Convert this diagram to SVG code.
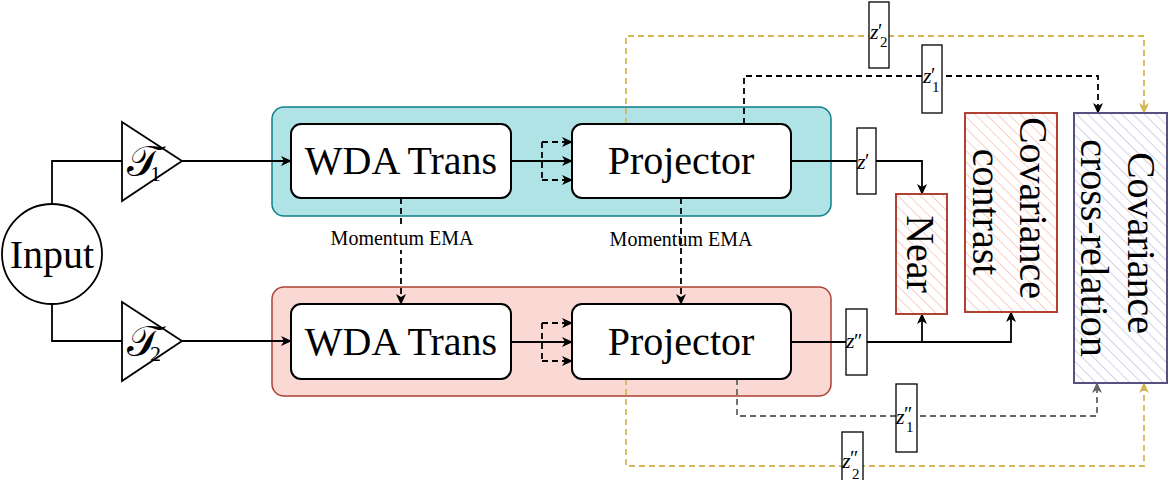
<svg xmlns="http://www.w3.org/2000/svg" width="1169" height="480" viewBox="0 0 1169 480">
<defs>
<style>
.grp-t{fill:#b0e3e6;stroke:#0e8088;stroke-width:1.5}
.grp-r{fill:#fad9d5;stroke:#ae4132;stroke-width:1.5}
.box{fill:#fff;stroke:#000;stroke-width:2}
.big{font-family:"Liberation Serif",serif;font-size:40px;fill:#000}
.tau{font-family:"DejaVu Serif","DejaVu Sans",serif;font-size:44px;fill:#000}
.small{font-family:"Liberation Serif",serif;font-size:20px;fill:#000}
.zi{font-family:"Liberation Serif",serif;font-size:22px;font-style:italic;fill:#000}
.zp{font-family:"Liberation Serif",serif;font-size:20px;fill:#000}
.zs{font-family:"Liberation Serif",serif;font-size:15px;fill:#000}
.ts{font-family:"Liberation Serif",serif;font-size:22px;fill:#000}
.lbl{fill:#fff;stroke:#000;stroke-width:1.3}
.ln{fill:none;stroke:#000;stroke-width:1.8}
.dk{fill:none;stroke:#000;stroke-width:1.8;stroke-dasharray:6 4}
.dg{fill:none;stroke:#666;stroke-width:1.8;stroke-dasharray:6 4}
.dy{fill:none;stroke:#d6b656;stroke-width:1.8;stroke-dasharray:6 4}
.shape{fill:#fff;stroke:#000;stroke-width:1.8}
</style>
<pattern id="hatchR" patternUnits="userSpaceOnUse" width="8" height="8" patternTransform="rotate(-45)">
<rect width="8" height="8" fill="#ffffff"/>
<line x1="0" y1="0" x2="0" y2="8" stroke="#f3b2a9" stroke-width="1.3"/>
</pattern>
<pattern id="hatchP" patternUnits="userSpaceOnUse" width="8" height="8" patternTransform="rotate(-45)">
<rect width="8" height="8" fill="#ffffff"/>
<line x1="0" y1="0" x2="0" y2="8" stroke="#bcb8dc" stroke-width="1.3"/>
</pattern>
<marker id="ak" markerUnits="userSpaceOnUse" markerWidth="12" markerHeight="10" refX="10" refY="5" orient="auto" viewBox="0 0 12 10">
<path d="M0,0 L11,5 L0,10 L3,5 z" fill="#000"/>
</marker>
<marker id="ag" markerUnits="userSpaceOnUse" markerWidth="12" markerHeight="10" refX="10" refY="5" orient="auto" viewBox="0 0 12 10">
<path d="M0,0 L11,5 L0,10 L3,5 z" fill="#666"/>
</marker>
<marker id="ay" markerUnits="userSpaceOnUse" markerWidth="12" markerHeight="10" refX="10" refY="5" orient="auto" viewBox="0 0 12 10">
<path d="M0,0 L11,5 L0,10 L3,5 z" fill="#d6b656"/>
</marker>
</defs>
<rect width="1169" height="480" fill="#fff"/>

<g id="group-top"><rect x="272" y="107" width="559" height="109" rx="12" class="grp-t"/></g>
<g id="group-bottom"><rect x="272" y="287" width="559" height="109" rx="12" class="grp-r"/></g>

<g id="connectors">
<path class="ln" d="M52,204 V161 H122"/>
<path class="ln" d="M52,304 V341 H122"/>
<path class="ln" d="M182,161 H291" marker-end="url(#ak)"/>
<path class="ln" d="M182,341 H291" marker-end="url(#ak)"/>
<path class="ln" d="M511,161 H572" marker-end="url(#ak)"/>
<path class="dk" d="M511,161 H542 M542,142 V180"/>
<path class="dk" d="M542,142 H572" marker-end="url(#ak)"/>
<path class="dk" d="M542,180 H572" marker-end="url(#ak)"/>
<path class="ln" d="M511,342 H572" marker-end="url(#ak)"/>
<path class="dk" d="M511,342 H542 M542,323 V361"/>
<path class="dk" d="M542,323 H572" marker-end="url(#ak)"/>
<path class="dk" d="M542,361 H572" marker-end="url(#ak)"/>
<path class="dk" d="M401,198 V304" marker-end="url(#ak)"/>
<path class="dk" d="M681,198 V304" marker-end="url(#ak)"/>
<path class="ln" d="M791,161 H922 V194" marker-end="url(#ak)"/>
<path class="ln" d="M791,342 H1011 V312" marker-end="url(#ak)"/>
<path class="ln" d="M922,342 V314" marker-end="url(#ak)"/>
<path class="dk" d="M744,124 V76 H1098 V113" marker-end="url(#ak)"/>
<path class="dy" d="M626,124 V36 H1144 V113" marker-end="url(#ay)"/>
<path class="dg" d="M737,379 V416 H1097 V383" marker-end="url(#ag)"/>
<path class="dy" d="M626,379 V466 H1144 V383" marker-end="url(#ay)"/>
</g>

<g id="input"><circle cx="52" cy="254" r="50" class="shape"/><text x="52" y="268" text-anchor="middle" class="big">Input</text></g>
<g id="t1"><polygon points="122,122 182,161 122,201" class="shape"/><text x="127" y="176" class="tau">𝒯</text><text x="150" y="181" class="ts">1</text></g>
<g id="t2"><polygon points="122,302 182,341 122,381" class="shape"/><text x="127" y="356" class="tau">𝒯</text><text x="150" y="361" class="ts">2</text></g>

<g id="wda-top"><rect x="291" y="124" width="220" height="74" rx="10" class="box"/><text x="401" y="174" text-anchor="middle" class="big">WDA Trans</text></g>
<g id="proj-top"><rect x="572" y="124" width="219" height="74" rx="10" class="box"/><text x="681" y="174" text-anchor="middle" class="big">Projector</text></g>
<g id="wda-bottom"><rect x="291" y="304" width="220" height="75" rx="10" class="box"/><text x="401" y="355" text-anchor="middle" class="big">WDA Trans</text></g>
<g id="proj-bottom"><rect x="572" y="304" width="219" height="75" rx="10" class="box"/><text x="681" y="355" text-anchor="middle" class="big">Projector</text></g>

<g id="ema-1"><rect x="329" y="228" width="146" height="22" fill="#fff"/><text x="402" y="245" text-anchor="middle" class="small">Momentum EMA</text></g>
<g id="ema-2"><text x="681" y="246" text-anchor="middle" class="small">Momentum EMA</text></g>

<g id="near"><rect x="896" y="194" width="51" height="120" fill="url(#hatchR)" stroke="#ae4132" stroke-width="2"/><text transform="translate(907,254) rotate(90)" text-anchor="middle" class="big">Near</text></g>
<g id="cov-contrast"><rect x="965" y="113" width="92" height="199" fill="url(#hatchR)" stroke="#ae4132" stroke-width="2"/><text transform="translate(1020,208) rotate(90)" text-anchor="middle" class="big">Covariance</text><text transform="translate(973,212) rotate(90)" text-anchor="middle" class="big">contrast</text></g>
<g id="cov-cross"><rect x="1074" y="113" width="93" height="270" fill="url(#hatchP)" stroke="#56517e" stroke-width="2"/><text transform="translate(1128,243) rotate(90)" text-anchor="middle" class="big">Covariance</text><text transform="translate(1081,248) rotate(90)" text-anchor="middle" class="big">cross-relation</text></g>

<g id="lbl-z1p"><rect x="922" y="45" width="20" height="68" class="lbl"/><text x="923" y="83" class="zi">z</text><text x="931" y="82" class="zp">′</text><text x="932" y="92" class="zs">1</text></g>
<g id="lbl-z2p"><rect x="869" y="2" width="20" height="66" class="lbl"/><text x="870" y="39" class="zi">z</text><text x="878" y="38" class="zp">′</text><text x="880" y="47" class="zs">2</text></g>
<g id="lbl-zp"><rect x="857" y="128" width="19" height="66" class="lbl"/><text x="857" y="169" class="zi">z</text><text x="865" y="168" class="zp">′</text></g>
<g id="lbl-zpp"><rect x="846" y="309" width="21" height="66" class="lbl"/><text x="846" y="348" class="zi">z</text><text x="854" y="348" class="zp">″</text></g>
<g id="lbl-z1pp"><rect x="896" y="384" width="21" height="68" class="lbl"/><text x="896" y="424" class="zi">z</text><text x="904" y="421" class="zp">″</text><text x="906" y="432" class="zs">1</text></g>
<g id="lbl-z2pp"><rect x="842" y="432" width="21" height="68" class="lbl"/><text x="842" y="468" class="zi">z</text><text x="850" y="465" class="zp">″</text><text x="852" y="479" class="zs">2</text></g>
</svg>
